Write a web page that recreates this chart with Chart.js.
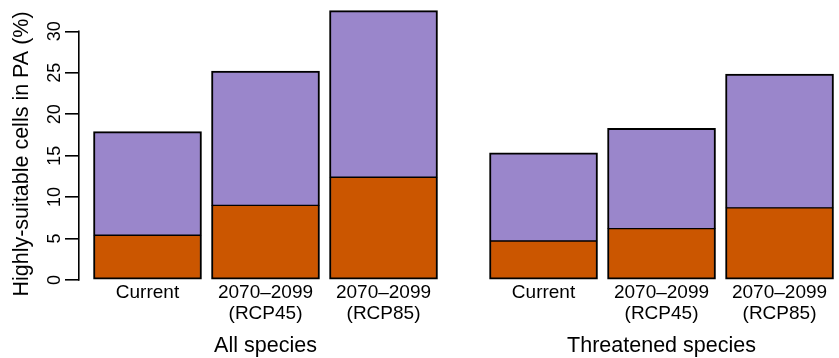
<!DOCTYPE html>
<html>
<head>
<meta charset="utf-8">
<script src="https://cdn.jsdelivr.net/npm/chart.js@4/dist/chart.umd.min.js"></script>
<style>
  html, body { margin: 0; padding: 0; background: #fff; }
  #wrap { width: 839px; height: 358px; }
</style>
</head>
<body>
<div id="wrap"><canvas id="c" width="839" height="358"></canvas></div>
<script>
// ---- data ----
const categories = ['Current', ['2070–2099', '(RCP45)'], ['2070–2099', '(RCP85)']];
const groups = ['All species', 'Threatened species'];
const lowerAll = [5.4, 9.0, 12.4];      // orange (bottom) segment
const upperAll = [12.5, 16.2, 20.1];    // purple (top) segment
const lowerThr = [4.7, 6.2, 8.7];
const upperThr = [10.65, 12.1, 16.15];
const yTicks = [0, 5, 10, 15, 20, 25, 30];
const yTitle = 'Highly-suitable cells in PA (%)';

// ---- layout helpers (not data) ----
const groupGap = 0.356;               // extra space between the two groups, in bar slots
const slot = (g, i) => i + g * (categories.length + groupGap);
const lowerSeries = [lowerAll, lowerThr];
const upperSeries = [upperAll, upperThr];

const tickPos = [], tickLab = [];
groups.forEach((g, gi) => categories.forEach((c, ci) => { tickPos.push(slot(gi, ci)); tickLab.push(c); }));
const groupPos = groups.map((g, gi) => slot(gi, (categories.length - 1) / 2));

const pts = (series) => {
  const out = [];
  series.forEach((arr, gi) => arr.forEach((v, ci) => out.push({ x: slot(gi, ci), y: v })));
  return out;
};

const FONT = '"Liberation Sans", Arial, Helvetica, sans-serif';
const PURPLE = '#9A86CB';
const ORANGE = '#CB5600';

const axisLine = {
  id: 'axisLine',
  afterDraw(chart) {
    const y = chart.scales.y;
    const ctx = chart.ctx;
    const x = Math.round(y.right) - 0.2;
    ctx.save();
    ctx.strokeStyle = '#000';
    ctx.lineWidth = 1.6;
    ctx.beginPath();
    ctx.moveTo(x, y.getPixelForValue(yTicks[0]) + 0.8);
    ctx.lineTo(x, y.getPixelForValue(yTicks[yTicks.length - 1]) - 0.8);
    ctx.stroke();
    ctx.restore();
  }
};

const xMin = -0.5805, xMax = 5.860;

new Chart(document.getElementById('c'), {
  type: 'bar',
  data: {
    datasets: [
      {
        label: 'lower',
        data: pts(lowerSeries),
        backgroundColor: ORANGE,
        borderColor: '#000',
        borderWidth: { top: 1, left: 2, right: 2, bottom: 2 },
        borderSkipped: false,
        barThickness: 108
      },
      {
        label: 'upper',
        data: pts(upperSeries),
        backgroundColor: PURPLE,
        borderColor: '#000',
        borderWidth: { top: 2, left: 2, right: 2, bottom: 1 },
        borderSkipped: false,
        barThickness: 108
      }
    ]
  },
  options: {
    responsive: false,
    animation: false,
    devicePixelRatio: 1,
    layout: { padding: 0 },
    plugins: { legend: { display: false }, tooltip: { enabled: false } },
    scales: {
      x: {
        type: 'linear',
        stacked: true,
        offset: false,
        min: xMin, max: xMax,
        grid: { display: false, drawTicks: false, tickLength: 0, offset: false },
        border: { display: false },
        afterBuildTicks: (s) => { s.ticks = tickPos.map(v => ({ value: v })); },
        afterFit: (s) => { s.height = 20; s.paddingLeft = 0; s.paddingRight = 0; },
        ticks: {
          autoSkip: false,
          mirror: true,
          maxRotation: 0, minRotation: 0,
          padding: 5,
          color: '#000',
          font: { family: FONT, size: 19, lineHeight: 1.1 },
          callback: (v, i) => tickLab[i]
        }
      },
      x2: {
        type: 'linear',
        position: 'bottom',
        weight: 1,
        offset: false,
        min: xMin, max: xMax,
        grid: { display: false, drawTicks: false, tickLength: 0, offset: false },
        border: { display: false },
        afterBuildTicks: (s) => { s.ticks = groupPos.map(v => ({ value: v })); },
        afterFit: (s) => { s.height = 30; s.paddingLeft = 0; s.paddingRight = 0; },
        ticks: {
          autoSkip: false,
          maxRotation: 0, minRotation: 0,
          padding: 4.8,
          color: '#000',
          font: { family: FONT, size: 21.5, lineHeight: 1.2 },
          callback: (v, i) => groups[i]
        }
      },
      y: {
        type: 'linear',
        stacked: true,
        min: -3.378, max: 33.78,
        afterBuildTicks: (s) => { s.ticks = yTicks.map(v => ({ value: v })); },
        afterFit: (s) => { s.width = 79; s.paddingTop = 0; s.paddingBottom = 0; },
        grid: {
          display: true, drawOnChartArea: false, drawTicks: true,
          tickLength: 14, color: '#000', lineWidth: 1.6
        },
        border: { display: false },
        ticks: {
          minRotation: 90, maxRotation: 90,
          crossAlign: 'center',
          padding: 0,
          color: '#000',
          font: { family: FONT, size: 18 }
        },
        title: {
          display: true,
          text: yTitle,
          color: '#000',
          padding: { top: 9.6, bottom: 0 },
          font: { family: FONT, size: 21.5, lineHeight: 1.2 }
        }
      }
    }
  },
  plugins: [axisLine]
});
</script>
</body>
</html>
